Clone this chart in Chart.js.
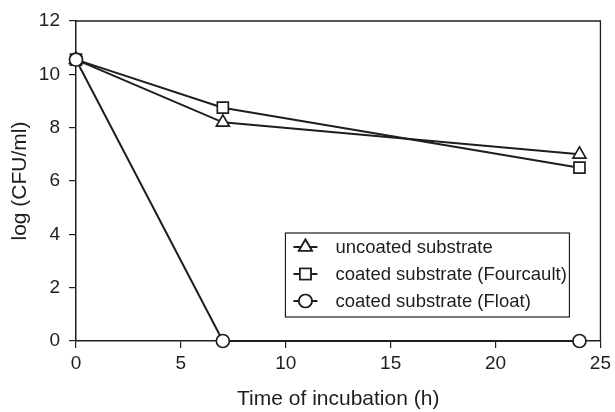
<!DOCTYPE html>
<html lang="en">
<head>
    <meta charset="UTF-8">
    <title>log (CFU/ml) vs time of incubation</title>
    <style>
        body {
            margin: 0;
            background: #fff;
        }
        #wrap {
            width: 615px;
            height: 412px;
        }
    </style>
    <script src="https://cdn.jsdelivr.net/npm/chart.js"></script>
</head>
<body>

<div id="wrap"><canvas id="grafico" width="615" height="412"></canvas></div>

<script>
// hours of incubation
const horas = [0, 7, 24];
// log (CFU/ml) per sample
const uncoated = [10.55, 8.2, 7.0];
const fourcault = [10.55, 8.75, 6.5];
const floatGlass = [10.55, 0, 0];

const etiquetas = ['uncoated substrate', 'coated substrate (Fourcault)', 'coated substrate (Float)'];
const simbolos = ['triangle', 'rect', 'circle'];
const radios = [7.5, 7.8, 6.5];
const series = [uncoated, fourcault, floatGlass];

const ink = '#1e1e1e';
const fuente = '"Liberation Sans", Arial, sans-serif';

function puntos(vals) {
    return horas.map((h, i) => ({ x: h, y: vals[i] }));
}

// box on top/right + legend inside the plot
const marco = {
    id: 'marco',
    beforeDatasetsDraw(chart) {
        const a = chart.chartArea, ctx = chart.ctx;
        ctx.save();
        ctx.strokeStyle = ink;
        ctx.lineWidth = 1.3;
        ctx.beginPath();
        ctx.moveTo(a.left, a.top);
        ctx.lineTo(a.right, a.top);
        ctx.lineTo(a.right, a.bottom);
        ctx.stroke();
        ctx.restore();
    },
    afterDatasetsDraw(chart) {
        const a = chart.chartArea, ctx = chart.ctx;
        const w = 284, h = 84;
        const x0 = a.right - 31 - w, y0 = a.bottom - 24 - h;
        ctx.save();
        ctx.fillStyle = '#fff';
        ctx.fillRect(x0, y0, w, h);
        ctx.strokeStyle = ink;
        ctx.lineWidth = 1.2;
        ctx.strokeRect(x0, y0, w, h);
        ctx.font = '18.5px ' + fuente;
        ctx.textBaseline = 'middle';
        etiquetas.forEach((txt, i) => {
            const cy = y0 + 14 + i * 27;
            ctx.strokeStyle = ink;
            ctx.lineWidth = 2;
            ctx.beginPath();
            ctx.moveTo(x0 + 8, cy);
            ctx.lineTo(x0 + 32, cy);
            ctx.stroke();
            ctx.fillStyle = '#fff';
            ctx.lineWidth = 1.7;
            Chart.helpers.drawPoint(ctx, { pointStyle: simbolos[i], radius: radios[i], rotation: 0, borderWidth: 1.7 }, x0 + 20, cy);
            ctx.fill();
            ctx.stroke();
            ctx.fillStyle = ink;
            ctx.fillText(txt, x0 + 50, cy + 1);
        });
        ctx.restore();
    }
};

const ctx = document.getElementById('grafico').getContext('2d');
const chart = new Chart(ctx, {
    type: 'line',
    data: {
        datasets: series.map((vals, i) => ({
            label: etiquetas[i],
            data: puntos(vals),
            borderColor: ink,
            borderWidth: 2,
            pointStyle: simbolos[i],
            pointRadius: radios[i],
            pointBorderWidth: 1.7,
            pointBackgroundColor: '#fff',
            pointBorderColor: ink,
            tension: 0,
            clip: false,
            order: 2 - i
        }))
    },
    options: {
        responsive: false,
        animation: false,
        layout: { padding: { left: 0, right: 12, top: 21, bottom: 0 } },
        plugins: {
            legend: { display: false },
            tooltip: { enabled: false }
        },
        scales: {
            x: {
                type: 'linear',
                min: 0,
                max: 25,
                ticks: { stepSize: 5, color: ink, padding: 4, font: { family: fuente, size: 19 } },
                grid: { drawOnChartArea: false, drawTicks: true, tickLength: 7, color: ink, lineWidth: 1.2 },
                border: { color: ink, width: 1.5 },
                title: { display: true, text: 'Time of incubation (h)', color: ink, padding: 0, font: { family: fuente, size: 21 } },
                afterFit(s) { s.height = 71; }
            },
            y: {
                min: 0,
                max: 12,
                ticks: { stepSize: 2, color: ink, padding: 9, font: { family: fuente, size: 19 } },
                grid: { drawOnChartArea: false, drawTicks: true, tickLength: 7, color: ink, lineWidth: 1.2 },
                border: { color: ink, width: 1.5 },
                title: { display: true, text: 'log (CFU/ml)', color: ink, padding: { top: 8, bottom: 0 }, font: { family: fuente, size: 21 } },
                afterFit(s) { s.width = 76; }
            }
        }
    },
    plugins: [marco]
});
</script>

</body>
</html>
